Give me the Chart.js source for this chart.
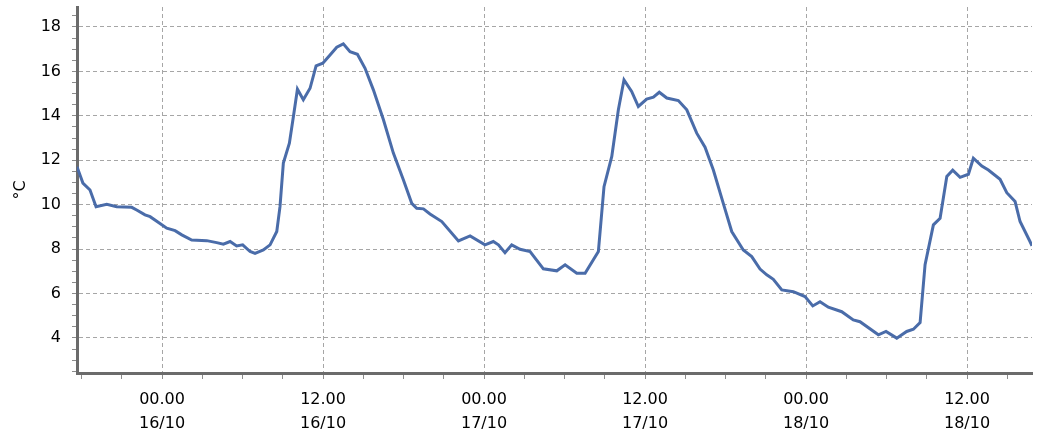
<!DOCTYPE html>
<html>
<head>
<meta charset="utf-8">
<script src="https://cdn.jsdelivr.net/npm/chart.js@4.4.1/dist/chart.umd.min.js"></script>
<style>
    html, body { margin: 0; padding: 0; background: #fff; }
    #wrap { width: 1041px; height: 432px; }
</style>
</head>
<body>
<div id="wrap"><canvas id="tempChart"></canvas></div>
<script>
// Time in hours counted from 00.00 16/10
const hours = [
    -6.34, -5.9, -5.37, -4.92, -4.12, -3.38, -2.26, -1.89, -1.27, -0.89,
    0.35, 0.97, 1.47, 2.21, 3.33, 4.07, 4.57, 5.07, 5.56, 6.01,
    6.56, 6.93, 7.55, 8.05, 8.55, 8.79, 9.04, 9.49, 9.79, 10.09,
    10.53, 11.03, 11.48, 11.98, 12.52, 13.02, 13.51, 14.01, 14.56, 15.13,
    15.75, 16.5, 17.24, 17.99, 18.61, 18.98, 19.48, 19.97, 20.85, 22.09,
    22.96, 24.07, 24.69, 25.07, 25.56, 26.06, 26.68, 27.43, 28.42, 29.42,
    30.04, 30.91, 31.53, 32.52, 32.94, 33.52, 34.01, 34.43, 35.0, 35.5,
    36.12, 36.62, 37.06, 37.62, 38.48, 39.11, 39.85, 40.47, 41.09, 41.83,
    42.46, 43.32, 43.95, 44.57, 45.07, 45.56, 46.19, 47.05, 47.92, 48.5,
    49.04, 49.66, 50.66, 51.52, 52.02, 53.39, 53.96, 54.76, 55.5, 56.0,
    56.5, 56.87, 57.49, 57.99, 58.49, 58.93, 59.48, 60.1, 60.47, 61.1,
    61.59, 62.46, 62.96, 63.58, 63.95, 64.69, 64.84
];

// Temperature, °C
const temps = [
    11.71, 10.97, 10.66, 9.91, 10.02, 9.91, 9.88, 9.76, 9.54, 9.46,
    8.94, 8.83, 8.64, 8.41, 8.38, 8.29, 8.22, 8.34, 8.14, 8.19,
    7.89, 7.81, 7.96, 8.19, 8.79, 9.91, 11.87, 12.77, 13.97, 15.20,
    14.72, 15.24, 16.25, 16.37, 16.74, 17.09, 17.24, 16.89, 16.77, 16.14,
    15.17, 13.82, 12.32, 11.11, 10.06, 9.84, 9.81, 9.58, 9.24, 8.37,
    8.59, 8.19, 8.34, 8.19, 7.84, 8.19, 7.99, 7.89, 7.11, 7.02,
    7.29, 6.91, 6.91, 7.89, 10.81, 12.17, 14.27, 15.62, 15.10, 14.42,
    14.75, 14.84, 15.06, 14.80, 14.69, 14.27, 13.22, 12.59, 11.56, 10.06,
    8.79, 7.96, 7.66, 7.10, 6.84, 6.64, 6.16, 6.08, 5.86, 5.44,
    5.63, 5.38, 5.18, 4.81, 4.73, 4.14, 4.29, 3.99, 4.29, 4.39,
    4.69, 7.30, 9.09, 9.39, 11.27, 11.55, 11.23, 11.37, 12.09, 11.74,
    11.56, 11.14, 10.54, 10.14, 9.24, 8.34, 8.15
];

// Axis ticks
const xMajorHours = [0, 12, 24, 36, 48, 60];
const xTimeLabels = ['00.00', '12.00', '00.00', '12.00', '00.00', '12.00'];
const xDateLabels = ['16/10', '16/10', '17/10', '17/10', '18/10', '18/10'];
const xMinorHours = [-6, -3, 3, 6, 9, 15, 18, 21, 27, 30, 33, 39, 42, 45, 51, 54, 57, 63];
const yMajor = [4, 6, 8, 10, 12, 14, 16, 18];
const yMinor = [2.5, 3, 3.5, 4.5, 5, 5.5, 6.5, 7, 7.5, 8.5, 9, 9.5, 10.5, 11, 11.5,
    12.5, 13, 13.5, 14.5, 15, 15.5, 16.5, 17, 17.5, 18.5];

const FONT = { family: '"DejaVu Sans", Verdana, sans-serif', size: 16 };
const GRID_COLOR = '#a6a6a6';
const AXIS_COLOR = '#6b6b6b';

function isIn(list, v) {
    return list.some(m => Math.abs(m - v) < 1e-6);
}

function initializeTemperatureChart() {
    const canvas = document.getElementById('tempChart');
    if (!canvas) {
        console.error('Chart canvas not found');
        return;
    }
    const ctx = canvas.getContext('2d');

    return new Chart(ctx, {
        type: 'line',
        data: {
            datasets: [{
                label: 'Temperature',
                data: hours.map((h, i) => ({ x: h, y: temps[i] })),
                borderColor: '#4a6ca9',
                borderWidth: 3,
                pointRadius: 0,
                tension: 0,
                fill: false
            }]
        },
        options: {
            responsive: true,
            maintainAspectRatio: false,
            animation: false,
            layout: {
                padding: { top: 7, right: 9, left: 0, bottom: 0 }
            },
            plugins: {
                legend: { display: false },
                tooltip: { enabled: false }
            },
            scales: {
                x: {
                    type: 'linear',
                    min: -6.34,
                    max: 64.84,
                    afterBuildTicks: scale => {
                        scale.ticks = xMajorHours.concat(xMinorHours)
                            .sort((a, b) => a - b)
                            .map(v => ({ value: v }));
                    },
                    afterFit: scale => { scale.height = 59; },
                    ticks: {
                        autoSkip: false,
                        maxRotation: 0,
                        padding: 9,
                        color: '#000',
                        font: Object.assign({}, FONT, { lineHeight: 1.5 }),
                        callback: value => {
                            const idx = xMajorHours.indexOf(value);
                            return idx >= 0 ? [xTimeLabels[idx], xDateLabels[idx]] : '';
                        }
                    },
                    grid: {
                        color: c => isIn(xMajorHours, c.tick.value) ? GRID_COLOR : 'rgba(0,0,0,0)',
                        lineWidth: 1,
                        tickColor: '#8c8c8c',
                        tickLength: 6,
                        tickBorderDash: []
                    },
                    border: {
                        display: true,
                        color: AXIS_COLOR,
                        width: 3,
                        dash: [4, 3]
                    }
                },
                y: {
                    type: 'linear',
                    min: 2.42,
                    max: 18.9,
                    afterBuildTicks: scale => {
                        scale.ticks = yMajor.concat(yMinor)
                            .sort((a, b) => a - b)
                            .map(v => ({ value: v }));
                    },
                    afterFit: scale => {
                        scale.width = 77;
                        // no extra room for half labels at the ends
                        scale.paddingTop = 0;
                        scale.paddingBottom = 0;
                    },
                    ticks: {
                        autoSkip: false,
                        padding: 11,
                        color: '#000',
                        font: FONT,
                        callback: value => isIn(yMajor, value) ? String(value) : ''
                    },
                    grid: {
                        color: c => isIn(yMajor, c.tick.value) ? GRID_COLOR : 'rgba(0,0,0,0)',
                        lineWidth: 1,
                        tickColor: '#8c8c8c',
                        tickLength: 5,
                        tickBorderDash: []
                    },
                    border: {
                        display: true,
                        color: AXIS_COLOR,
                        width: 3,
                        dash: [4, 3]
                    },
                    title: {
                        display: true,
                        text: '°C',
                        color: '#000',
                        font: FONT,
                        padding: { top: 11, bottom: 0 }
                    }
                }
            }
        }
    });
}

initializeTemperatureChart();
</script>
</body>
</html>
